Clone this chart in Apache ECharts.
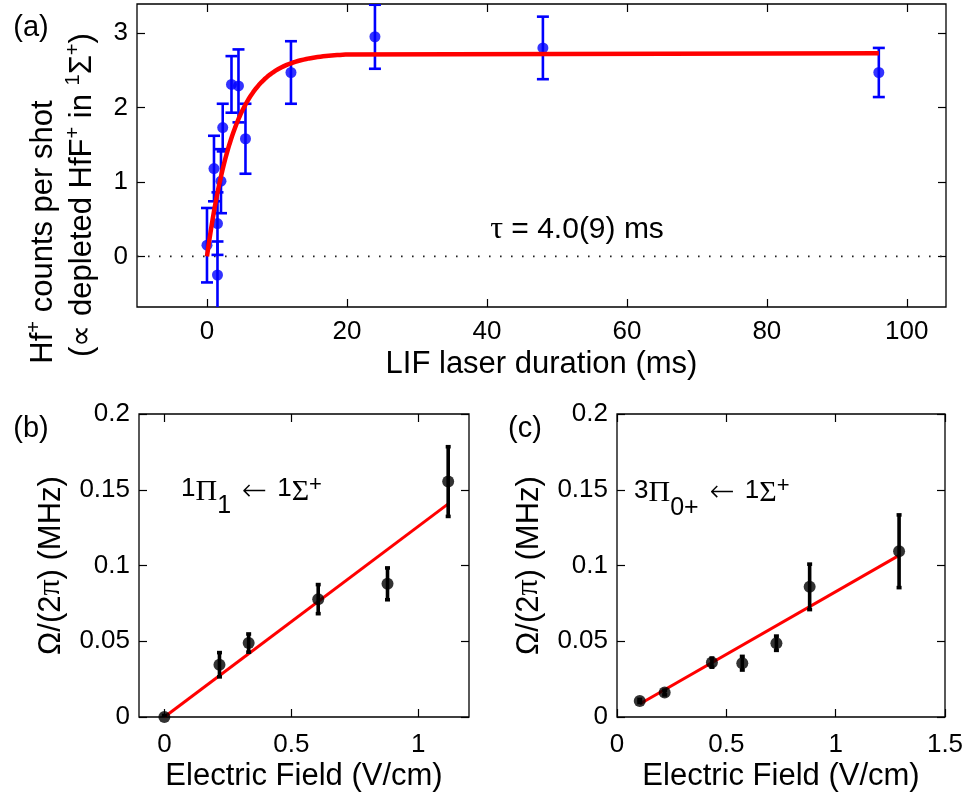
<!DOCTYPE html>
<html>
<head>
<meta charset="utf-8">
<script src="https://cdn.jsdelivr.net/npm/echarts@6/dist/echarts.min.js"></script>
<style>
  html, body { margin: 0; padding: 0; background: #fff; }
  #chart { width: 968px; height: 795px; }
</style>
</head>
<body>
<div id="chart"></div>
<script>
// ---- (a) Hf+ counts vs LIF laser duration ----
const durationMs    = [0, 1.0, 1.5, 1.5, 2.0, 2.25, 3.5, 4.5, 5.5, 12, 24, 48, 96];
const countsPerShot = [0.15, 1.18, 0.44, -0.25, 1.01, 1.73, 2.31, 2.29, 1.58, 2.47, 2.95, 2.80, 2.47];
const countsErr     = [0.50, 0.44, 0.42, 0.45, 0.43, 0.32, 0.38, 0.49, 0.47, 0.42, 0.43, 0.42, 0.33];
const fitAmplitude  = 2.73;   // saturation level of the exponential fit
const fitTauMs      = 4.0;    // tau = 4.0(9) ms
const fitEndMs      = 96;
const zeroLineSpan  = [-10, 105.6];

// ---- (b) 1Pi1 <- 1Sigma+ Rabi frequency vs field ----
const fieldB   = [0, 0.217, 0.332, 0.606, 0.879, 1.118];
const rabiB    = [0, 0.0345, 0.0488, 0.0778, 0.0879, 0.1554];
const rabiErrB = [0.001, 0.008, 0.006, 0.0096, 0.0105, 0.023];
const slopeB   = 0.1258;

// ---- (c) 3Pi0+ <- 1Sigma+ Rabi frequency vs field ----
const fieldC   = [0.104, 0.218, 0.434, 0.573, 0.729, 0.881, 1.290];
const rabiC    = [0.0106, 0.0161, 0.0359, 0.0355, 0.0487, 0.0859, 0.1094];
const rabiErrC = [0.001, 0.0015, 0.003, 0.0045, 0.0047, 0.015, 0.024];
const slopeC   = 0.0827;

// ---- tick values ----
const ticksAx  = [0, 20, 40, 60, 80, 100];
const ticksAy  = [0, 1, 2, 3];
const ticksBx  = [0, 0.5, 1];
const ticksCx  = [0, 0.5, 1, 1.5];
const ticksBCy = [0, 0.05, 0.1, 0.15, 0.2];

const FONT = '"Liberation Sans", Arial, Helvetica, sans-serif';
const SERIF = '"Liberation Serif", "Times New Roman", serif';
const ARROW_FONT = '"DejaVu Sans", sans-serif';
const BLUE = '#0000ff', RED = '#ff0000', BLACK = '#000000';

// fit curve evaluated from the fit parameters
const fitCurve = [];
for (let t = 0; t <= 20; t += 0.2) fitCurve.push([t, fitAmplitude * (1 - Math.exp(-t / fitTauMs))]);
fitCurve.push([fitEndMs, fitAmplitude * (1 - Math.exp(-fitEndMs / fitTauMs))]);

const tickStyle = (ticks) => ({ show: true, inside: true, length: 8, customValues: ticks, lineStyle: { color: BLACK, width: 1.2 } });

function mainX(grid, min, max, ticks, name, nameGap, labelMargin) {
  return {
    type: 'value', gridIndex: grid, min, max, position: 'bottom',
    axisLine: { show: false, onZero: false },
    splitLine: { show: false },
    axisTick: tickStyle(ticks),
    axisLabel: { customValues: ticks, formatter: v => String(v), fontSize: 26, color: BLACK, fontFamily: FONT, margin: labelMargin },
    name, nameLocation: 'middle', nameGap,
    nameTextStyle: { fontSize: 31, color: BLACK, fontFamily: FONT }
  };
}
function mirrorX(grid, min, max, ticks) {
  return {
    type: 'value', gridIndex: grid, min, max, position: 'top',
    axisLine: { show: false, onZero: false }, splitLine: { show: false },
    axisTick: tickStyle(ticks),
    axisLabel: { show: false }
  };
}
function mainY(grid, min, max, ticks, name, nameGap) {
  return {
    type: 'value', gridIndex: grid, min, max, position: 'left',
    axisLine: { show: false, onZero: false }, splitLine: { show: false },
    axisTick: tickStyle(ticks),
    axisLabel: { customValues: ticks, formatter: v => String(v), fontSize: 26, color: BLACK, fontFamily: FONT, margin: 9 },
    name, nameLocation: 'middle', nameGap,
    nameTextStyle: {
      fontSize: 31, color: BLACK, fontFamily: FONT,
      rich: {
        a: { fontSize: 31, fontFamily: FONT, color: BLACK },
        p: { fontSize: 32, fontFamily: SERIF, color: BLACK }
      }
    }
  };
}
function mirrorY(grid, min, max, ticks) {
  return {
    type: 'value', gridIndex: grid, min, max, position: 'right',
    axisLine: { show: false, onZero: false }, splitLine: { show: false },
    axisTick: tickStyle(ticks),
    axisLabel: { show: false }
  };
}

function errorBars(axisIdx, xs, ys, errs, color, width, cap, z) {
  return {
    type: 'custom', xAxisIndex: axisIdx, yAxisIndex: axisIdx, clip: true, z,
    data: xs.map((x, i) => [x, ys[i] - errs[i], ys[i] + errs[i]]),
    encode: { x: 0, y: [1, 2] },
    renderItem(params, api) {
      const x = api.value(0);
      const lo = api.coord([x, api.value(1)]);
      const hi = api.coord([x, api.value(2)]);
      const style = { stroke: color, lineWidth: width };
      return {
        type: 'group',
        children: [
          { type: 'line', shape: { x1: lo[0], y1: lo[1], x2: hi[0], y2: hi[1] }, style },
          { type: 'line', shape: { x1: lo[0] - cap, y1: lo[1], x2: lo[0] + cap, y2: lo[1] }, style },
          { type: 'line', shape: { x1: hi[0] - cap, y1: hi[1], x2: hi[0] + cap, y2: hi[1] }, style }
        ]
      };
    }
  };
}

// rich-text styles: a token with verticalAlign 'top'/'bottom' and an explicit height
// sits (lineHeight - height) / 2 above / below the line centre
function richSet(main, mainFamily, lineH, parts) {
  const rich = { g: { fontSize: main, fontFamily: mainFamily, color: BLACK, lineHeight: lineH } };
  Object.keys(parts).forEach(k => {
    const p = parts[k];
    rich[k] = { fontSize: p.size, fontFamily: p.family || FONT, color: BLACK, lineHeight: lineH };
    if (p.weight) rich[k].fontWeight = p.weight;
    if (p.padding) rich[k].padding = p.padding;
    if (p.shift > 0) { rich[k].verticalAlign = 'top'; rich[k].height = lineH - 2 * p.shift; }
    if (p.shift < 0) { rich[k].verticalAlign = 'bottom'; rich[k].height = lineH + 2 * p.shift; }
  });
  return rich;
}

const yNameOmega = '{a|Ω/(2}{p|π}{a|) (MHz)}';
const centered = { textAlign: 'center', textVerticalAlign: 'middle', align: 'center', verticalAlign: 'middle' };
const leftMid = { textAlign: 'left', textVerticalAlign: 'middle', align: 'left', verticalAlign: 'middle' };
const arrowStyle = { size: 30, family: ARROW_FONT, weight: 200, shift: 0, padding: [0, 10, 0, 11] };

const option = {
  animation: false,
  backgroundColor: '#ffffff',
  grid: [
    { left: 137, top: 4, width: 809, height: 303, show: true, borderColor: BLACK, borderWidth: 1.3, backgroundColor: 'transparent' },
    { left: 139, top: 414, width: 330, height: 303, show: true, borderColor: BLACK, borderWidth: 1.3, backgroundColor: 'transparent' },
    { left: 617, top: 414, width: 328, height: 303, show: true, borderColor: BLACK, borderWidth: 1.3, backgroundColor: 'transparent' }
  ],
  xAxis: [
    mainX(0, -10, 105.6, ticksAx, 'LIF laser duration (ms)', 42, 12),
    mainX(1, -0.1, 1.2, ticksBx, 'Electric Field (V/cm)', 44, 15),
    mainX(2, 0, 1.5, ticksCx, 'Electric Field (V/cm)', 44, 15),
    mirrorX(0, -10, 105.6, ticksAx),
    mirrorX(1, -0.1, 1.2, ticksBx),
    mirrorX(2, 0, 1.5, ticksCx)
  ],
  yAxis: [
    mainY(0, -0.68, 3.39, ticksAy, '', 0),
    mainY(1, 0, 0.2, ticksBCy, yNameOmega, 72),
    mainY(2, 0, 0.2, ticksBCy, yNameOmega, 72),
    mirrorY(0, -0.68, 3.39, ticksAy),
    mirrorY(1, 0, 0.2, ticksBCy),
    mirrorY(2, 0, 0.2, ticksBCy)
  ],
  series: [
    // (a)
    {
      type: 'line', xAxisIndex: 0, yAxisIndex: 0, symbol: 'none', z: 1,
      data: [[zeroLineSpan[0], 0], [zeroLineSpan[1], 0]],
      lineStyle: { color: '#222', width: 1.6, type: [1.6, 9.4] }
    },
    errorBars(0, durationMs, countsPerShot, countsErr, BLUE, 2.6, 6, 2),
    {
      type: 'scatter', xAxisIndex: 0, yAxisIndex: 0, z: 3,
      data: durationMs.map((t, i) => [t, countsPerShot[i]]),
      symbol: 'circle', symbolSize: 11, itemStyle: { color: BLUE }
    },
    {
      type: 'line', xAxisIndex: 0, yAxisIndex: 0, symbol: 'none', z: 4,
      data: fitCurve, lineStyle: { color: RED, width: 4.5 }
    },
    // (b)
    {
      type: 'line', xAxisIndex: 1, yAxisIndex: 1, symbol: 'none', z: 1,
      data: [fieldB[0], fieldB[fieldB.length - 1]].map(e => [e, slopeB * e]),
      lineStyle: { color: RED, width: 3 }
    },
    errorBars(1, fieldB, rabiB, rabiErrB, BLACK, 3.6, 2.5, 2),
    {
      type: 'scatter', xAxisIndex: 1, yAxisIndex: 1, z: 3,
      data: fieldB.map((e, i) => [e, rabiB[i]]),
      symbol: 'circle', symbolSize: 12, itemStyle: { color: BLACK }
    },
    // (c)
    {
      type: 'line', xAxisIndex: 2, yAxisIndex: 2, symbol: 'none', z: 1,
      data: [fieldC[0], fieldC[fieldC.length - 1]].map(e => [e, slopeC * e]),
      lineStyle: { color: RED, width: 3 }
    },
    errorBars(2, fieldC, rabiC, rabiErrC, BLACK, 3.6, 2.5, 2),
    {
      type: 'scatter', xAxisIndex: 2, yAxisIndex: 2, z: 3,
      data: fieldC.map((e, i) => [e, rabiC[i]]),
      symbol: 'circle', symbolSize: 12, itemStyle: { color: BLACK }
    }
  ],
  graphic: [
    // panel letters
    { type: 'text', x: 31, y: 28, style: Object.assign({ text: '(a)', fontSize: 29, fontFamily: FONT, fill: BLACK }, centered) },
    { type: 'text', x: 31, y: 429, style: Object.assign({ text: '(b)', fontSize: 29, fontFamily: FONT, fill: BLACK }, centered) },
    { type: 'text', x: 525, y: 429, style: Object.assign({ text: '(c)', fontSize: 29, fontFamily: FONT, fill: BLACK }, centered) },
    // (a) y-axis title, two rotated lines
    {
      type: 'text', x: 43, y: 232, rotation: Math.PI / 2,
      style: Object.assign({
        text: '{g|Hf}{s|+}{g| counts per shot}',
        rich: richSet(31, FONT, 50, { s: { size: 20, shift: 9 } })
      }, centered)
    },
    {
      type: 'text', x: 82, y: 195, rotation: Math.PI / 2,
      style: Object.assign({
        text: '{g|(∝ depleted HfF}{s|+}{g| in }{s|1}{g|Σ}{s|+}{g|)}',
        rich: richSet(31, FONT, 50, { s: { size: 20, shift: 9 } })
      }, centered)
    },
    // tau annotation
    {
      type: 'text', x: 577, y: 230,
      style: Object.assign({
        text: '{t|τ}{g| = 4.0(9) ms}',
        rich: { g: { fontSize: 30, fontFamily: FONT, color: BLACK }, t: { fontSize: 32, fontFamily: SERIF, color: BLACK } }
      }, centered)
    },
    // (b) transition label
    {
      type: 'text', x: 181, y: 492,
      style: Object.assign({
        text: '{sp|1}{g|Π}{sb|1}{ar|←}{sp|1}{g|Σ}{pl|+}',
        rich: richSet(30, SERIF, 60, {
          sp: { size: 26, shift: 3 },
          sb: { size: 25, shift: -14 },
          pl: { size: 22, shift: 7 },
          ar: arrowStyle
        })
      }, leftMid)
    },
    // (c) transition label
    {
      type: 'text', x: 634, y: 493,
      style: Object.assign({
        text: '{sp|3}{g|Π}{sb|0+}{ar|←}{sp|1}{g|Σ}{pl|+}',
        rich: richSet(30, SERIF, 60, {
          sp: { size: 26, shift: 2 },
          sb: { size: 25, shift: -15 },
          pl: { size: 22, shift: 7 },
          ar: arrowStyle
        })
      }, leftMid)
    }
  ]
};

const chart = echarts.init(document.getElementById('chart'), null, { renderer: 'canvas' });
chart.setOption(option);
</script>
</body>
</html>
